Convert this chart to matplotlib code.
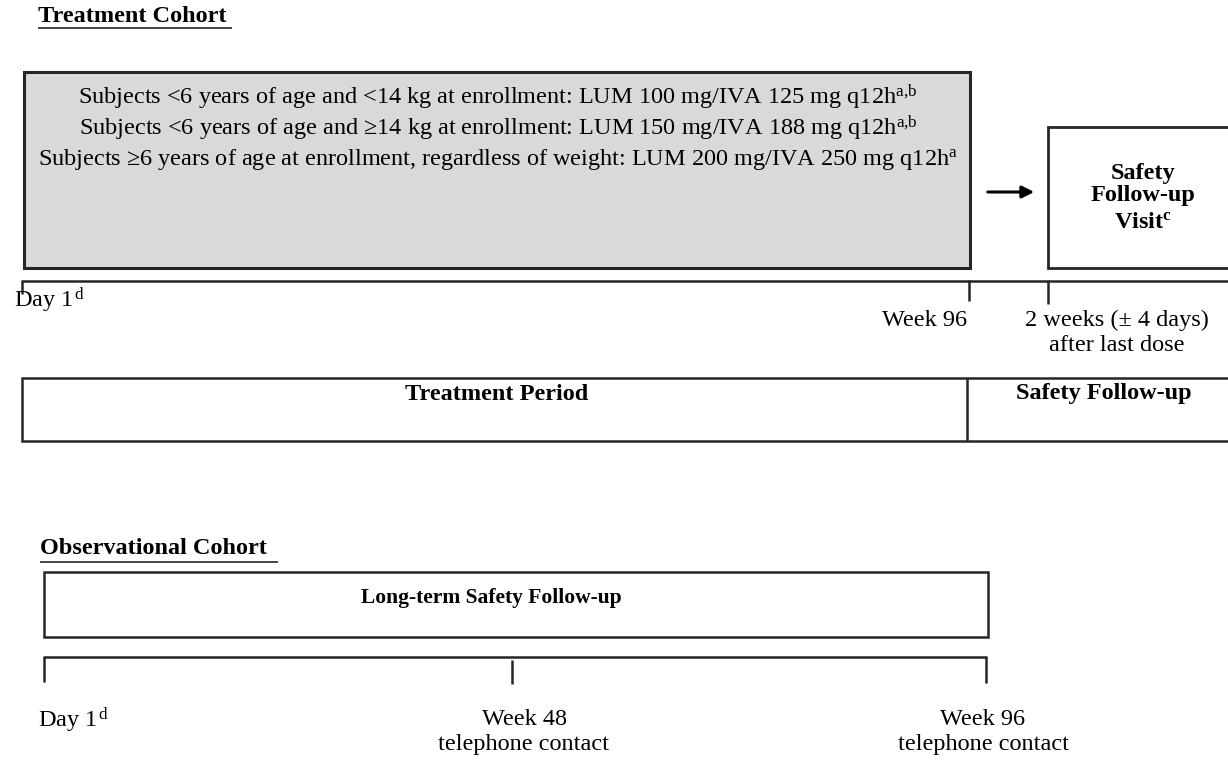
import matplotlib
matplotlib.use("Agg")
import matplotlib.pyplot as plt
from matplotlib.patches import Rectangle

plt.rcParams['font.family'] = ['Liberation Serif', 'DejaVu Serif']
plt.rcParams['mathtext.fontset'] = 'custom'
plt.rcParams['mathtext.rm'] = 'Liberation Serif'
plt.rcParams['mathtext.it'] = 'Liberation Serif:italic'
plt.rcParams['mathtext.bf'] = 'Liberation Serif:bold'

# ---- content ----
cohort_titles = ["Treatment Cohort", "Observational Cohort"]
dose_groups = [
    "Subjects <6 years of age and <14 kg at enrollment: LUM 100 mg/IVA 125 mg q12h$^{\\mathrm{a{,}b}}$",
    "Subjects <6 years of age and \u226514 kg at enrollment: LUM 150 mg/IVA 188 mg q12h$^{\\mathrm{a{,}b}}$",
    "Subjects \u22656 years of age at enrollment, regardless of weight: LUM 200 mg/IVA 250 mg q12h$^{\\mathrm{a}}$",
]
visit_box_lines = ["Safety", "Follow-up", "Visit$^{\\mathbf{c}}$"]
treat_timepoints = ["Day 1$^{\\,\\mathrm{d}}$", "Week 96", "2 weeks (\u00b1 4 days)\nafter last dose"]
periods = ["Treatment Period", "Safety Follow-up"]
obs_period = "Long-term Safety Follow-up"
obs_timepoints = ["Day 1$^{\\,\\mathrm{d}}$", "Week 48\ntelephone contact", "Week 96\ntelephone contact"]

W, H = 1228, 761
fig = plt.figure(figsize=(W / 100, H / 100), dpi=100)
ax = fig.add_axes([0, 0, 1, 1])
ax.set_xlim(0, W)
ax.set_ylim(H, 0)
ax.axis('off')

EC = '#262626'
LW = 1.8
FS = 17.5

def hline(x0, x1, y, lw=LW):
    ax.plot([x0, x1], [y, y], color=EC, lw=lw, solid_capstyle='butt')

def vline(x, y0, y1, lw=LW):
    ax.plot([x, x], [y0, y1], color=EC, lw=lw, solid_capstyle='butt')

# Treatment cohort title
ax.text(38, 17, cohort_titles[0], fontsize=FS, fontweight='bold', ha='left', va='center')
hline(38, 232, 28, lw=1.2)

# gray dosing box
ax.add_patch(Rectangle((24, 72), 946, 196, facecolor='#d9d9d9', edgecolor=EC, lw=2.2))
for y, s in zip([97, 128, 160], dose_groups):
    ax.text(498, y, s, fontsize=FS, ha='center', va='center')

# arrow
ax.annotate('', xy=(1037, 192), xytext=(985, 192),
            arrowprops=dict(arrowstyle='-|>', color='black', lw=2.2, mutation_scale=18))

# visit box
ax.add_patch(Rectangle((1048, 127), 200, 141, facecolor='white', edgecolor=EC, lw=2.0))
for y, s in zip([173, 196, 222], visit_box_lines):
    ax.text(1143, y, s, fontsize=FS, fontweight='bold', ha='center', va='center')

# treatment timeline bracket
hline(22, W, 281)
vline(22, 280, 294)
vline(969, 280, 301)
vline(1048, 280, 304)
ax.text(14, 300, treat_timepoints[0], fontsize=FS, ha='left', va='center')
ax.text(967, 320, treat_timepoints[1], fontsize=FS, ha='right', va='center')
ax.text(1117, 333, treat_timepoints[2], fontsize=FS, ha='center', va='center', linespacing=1.3)

# periods box
ax.add_patch(Rectangle((22, 378), 1240, 63, facecolor='white', edgecolor=EC, lw=1.8))
vline(967, 378, 441)
ax.text(497, 394, periods[0], fontsize=FS, fontweight='bold', ha='center', va='center')
ax.text(1104, 394, periods[1], fontsize=FS, fontweight='bold', ha='center', va='center')

# Observational cohort
ax.text(40, 549, cohort_titles[1], fontsize=FS, fontweight='bold', ha='left', va='center')
hline(40, 278, 562, lw=1.2)

ax.add_patch(Rectangle((44, 572), 944, 65, facecolor='white', edgecolor=EC, lw=1.8))
ax.text(491, 598, obs_period, fontsize=15.5, fontweight='bold', ha='center', va='center')

hline(44, 986, 657)
vline(44, 656, 682)
vline(512, 660, 684)
vline(986, 656, 683)
ax.text(38, 720, obs_timepoints[0], fontsize=FS, ha='left', va='center')
ax.text(524, 732, obs_timepoints[1], fontsize=FS, ha='center', va='center', linespacing=1.25)
ax.text(983, 732, obs_timepoints[2], fontsize=FS, ha='center', va='center', linespacing=1.25)

fig.savefig('out.png', dpi=100)
